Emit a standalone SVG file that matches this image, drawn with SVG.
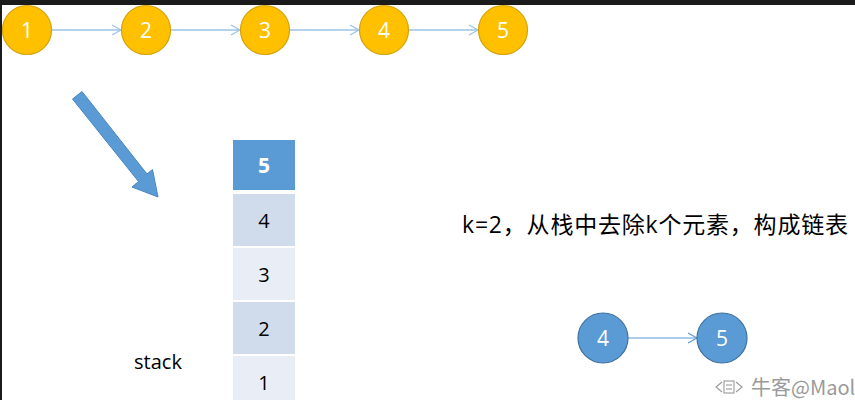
<svg xmlns="http://www.w3.org/2000/svg" width="855" height="400" viewBox="0 0 855 400">
<defs>
<style>
.yc{fill:#ffc000;stroke:#d4a20a;stroke-width:1.2}
.bc{fill:#5b9bd5;stroke:#41719c;stroke-width:1.2}
.ct{font-family:"Open Sans","Liberation Sans",sans-serif;font-size:21px;fill:#ffffff;text-anchor:middle}
.st{font-family:"Open Sans","Liberation Sans",sans-serif;font-size:20px;fill:#000000;text-anchor:middle}
.edge{stroke:#9dc3e6;stroke-width:1.3;fill:none}
.edge2{stroke:#5b9bd5;stroke-width:1.2;fill:none}
</style>
<marker id="ah" markerWidth="12" markerHeight="12" refX="10" refY="6" orient="auto" markerUnits="userSpaceOnUse">
<path d="M1,1 L10,6 L1,11" fill="none" stroke="#9dc3e6" stroke-width="1.3"/>
</marker>
<marker id="ah2" markerWidth="12" markerHeight="12" refX="10" refY="6" orient="auto" markerUnits="userSpaceOnUse">
<path d="M1,1 L10,6 L1,11" fill="none" stroke="#5b9bd5" stroke-width="1.2"/>
</marker>
</defs>
<rect x="0" y="0" width="855" height="400" fill="#ffffff"/>
<rect x="0" y="0" width="855" height="5" fill="#1b1b1b"/>
<rect x="0" y="0" width="2" height="400" fill="#1b1b1b"/>

<g id="connectors">
<line class="edge" x1="52" y1="30" x2="121" y2="30" marker-end="url(#ah)"/>
<line class="edge" x1="171" y1="30" x2="240" y2="30" marker-end="url(#ah)"/>
<line class="edge" x1="290" y1="30" x2="359" y2="30" marker-end="url(#ah)"/>
<line class="edge" x1="409" y1="30" x2="478" y2="30" marker-end="url(#ah)"/>
<line class="edge2" x1="628" y1="338" x2="697" y2="338" marker-end="url(#ah2)"/>
</g>

<g id="n1"><circle class="yc" cx="27" cy="30" r="24.5"/><text class="ct" x="27" y="37.5">1</text></g>
<g id="n2"><circle class="yc" cx="146" cy="30" r="24.5"/><text class="ct" x="146" y="37.5">2</text></g>
<g id="n3"><circle class="yc" cx="265" cy="30" r="24.5"/><text class="ct" x="265" y="37.5">3</text></g>
<g id="n4"><circle class="yc" cx="384" cy="30" r="24.5"/><text class="ct" x="384" y="37.5">4</text></g>
<g id="n5"><circle class="yc" cx="503" cy="30" r="24.5"/><text class="ct" x="503" y="37.5">5</text></g>

<g id="bigarrow">
<polygon points="72.5,99 82,91.5 147,174 152.5,169.5 158,197 132,187 138.5,181.5" fill="#5b9bd5" stroke="#4a86c0" stroke-width="1"/>
</g>

<g id="stack">
<rect x="233" y="140" width="62" height="50" fill="#5b9bd5"/>
<text x="264" y="172.5" class="ct" style="font-weight:bold">5</text>
<rect x="233" y="194" width="62" height="52" fill="#d0dbec"/>
<text x="264" y="227.5" class="st">4</text>
<rect x="233" y="248" width="62" height="52" fill="#e9edf5"/>
<text x="264" y="281.5" class="st">3</text>
<rect x="233" y="302" width="62" height="52" fill="#d0dbec"/>
<text x="264" y="335.5" class="st">2</text>
<rect x="233" y="356" width="62" height="44" fill="#e9edf5"/>
<text x="264" y="389.5" class="st">1</text>
</g>

<g id="stacklabel">
<text x="158" y="369" class="st">stack</text>
</g>

<g id="caption">
<text x="462" y="233" font-family="'Open Sans','Noto Sans CJK SC',sans-serif" font-size="23" textLength="386" lengthAdjust="spacing" fill="#000000">k=2，从栈中去除k个元素，构成链表</text>
</g>

<g id="b4"><circle class="bc" cx="603" cy="338" r="25"/><text class="ct" x="603" y="345.5">4</text></g>
<g id="b5"><circle class="bc" cx="722" cy="338" r="25"/><text class="ct" x="722" y="345.5">5</text></g>

<g id="watermark" fill="none" stroke="#9a9a9a" stroke-width="1.1">
<path d="M722,382 L716,387 L722,392"/>
<rect x="724" y="381" width="10" height="12"/>
<line x1="726" y1="385" x2="732" y2="385"/>
<line x1="726" y1="389" x2="732" y2="389"/>
<path d="M736,382 L742,387 L736,392"/>
<text x="751" y="395" stroke="none" fill="#9a9a9a" font-family="'Noto Sans CJK SC','Liberation Sans',sans-serif" font-size="20">牛客@Maol</text>
</g>
</svg>
